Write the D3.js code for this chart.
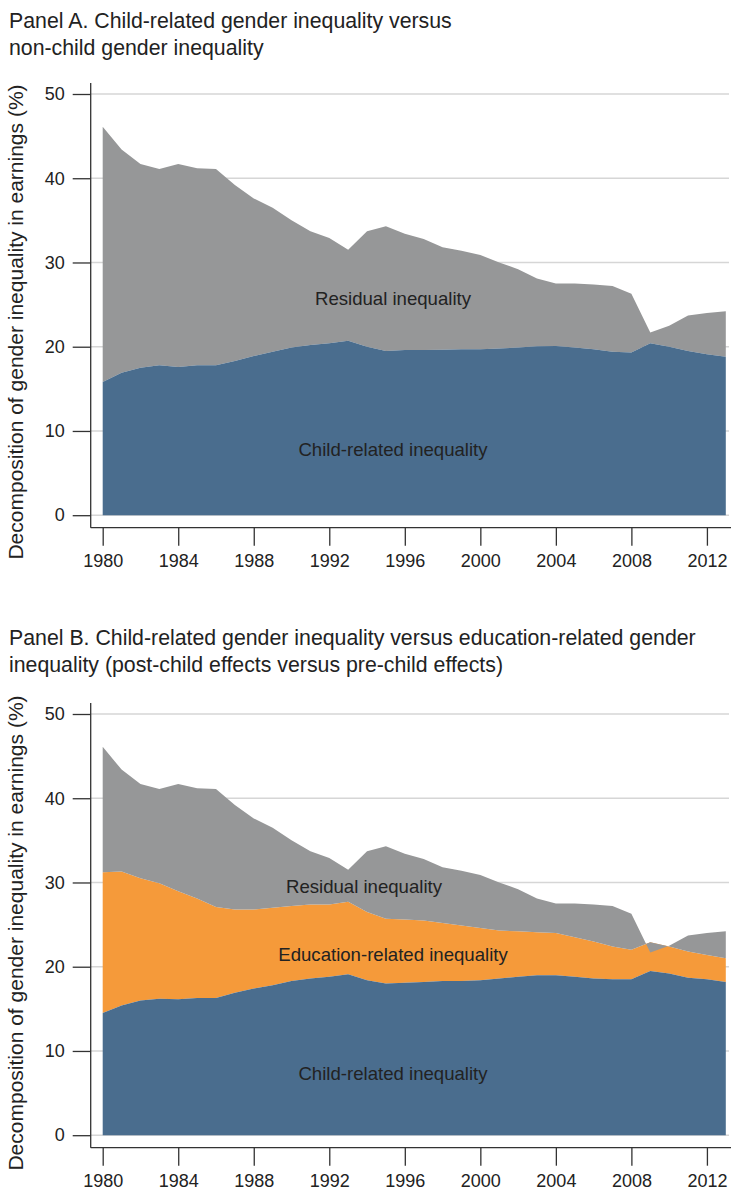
<!DOCTYPE html>
<html>
<head>
<meta charset="utf-8">
<script src="https://cdn.jsdelivr.net/npm/d3@7"></script>
<style>
  html, body { margin: 0; padding: 0; background: #fff; }
  svg { display: block; font-family: "Liberation Sans", Arial, Helvetica, sans-serif; }
</style>
</head>
<body>
<svg id="chart" width="731" height="1192"></svg>
<script>
// Decomposition of the gender gap in earnings, Denmark 1980-2013 (percent)
const years = [1980, 1981, 1982, 1983, 1984, 1985, 1986, 1987, 1988, 1989,
               1990, 1991, 1992, 1993, 1994, 1995, 1996, 1997, 1998, 1999,
               2000, 2001, 2002, 2003, 2004, 2005, 2006, 2007, 2008, 2009,
               2010, 2011, 2012, 2013];

// total gender inequality in earnings (top of the stack in both panels)
const totalGap = [46.1, 43.4, 41.7, 41.1, 41.7, 41.2, 41.1, 39.2, 37.6, 36.5,
                  35.0, 33.7, 32.9, 31.5, 33.7, 34.3, 33.4, 32.8, 31.8, 31.4,
                  30.9, 30.0, 29.2, 28.1, 27.5, 27.5, 27.4, 27.2, 26.3, 21.7,
                  22.5, 23.7, 24.0, 24.2];

// Panel A: child-related share
const childA = [15.8, 16.9, 17.5, 17.8, 17.6, 17.8, 17.8, 18.3, 18.9, 19.4,
                19.9, 20.2, 20.4, 20.7, 20.0, 19.5, 19.6, 19.6, 19.65, 19.7,
                19.7, 19.8, 19.9, 20.05, 20.1, 19.9, 19.7, 19.4, 19.3, 20.4,
                20.0, 19.5, 19.1, 18.8];

// Panel B: child-related (post-child) and education-related (pre-child) shares
const childB = [14.5, 15.4, 16.0, 16.2, 16.15, 16.3, 16.3, 16.9, 17.4, 17.8,
                18.3, 18.6, 18.8, 19.1, 18.4, 18.0, 18.1, 18.2, 18.3, 18.3,
                18.4, 18.6, 18.8, 19.0, 19.0, 18.8, 18.6, 18.5, 18.5, 19.5,
                19.2, 18.7, 18.5, 18.2];
const educationB = [16.7, 15.9, 14.5, 13.7, 12.8, 11.8, 10.8, 9.9, 9.4, 9.2,
                    8.9, 8.8, 8.6, 8.6, 8.1, 7.7, 7.5, 7.3, 6.9, 6.6,
                    6.2, 5.7, 5.4, 5.1, 5.0, 4.7, 4.4, 3.9, 3.5, 3.4,
                    3.2, 3.1, 2.9, 2.8];

const yTicks = [0, 10, 20, 30, 40, 50];
const xTicks = [1980, 1984, 1988, 1992, 1996, 2000, 2004, 2008, 2012];

const titleA = ["Panel A. Child-related gender inequality versus",
                "non-child gender inequality"];
const titleB = ["Panel B. Child-related gender inequality versus education-related gender",
                "inequality (post-child effects versus pre-child effects)"];
const yTitle = "Decomposition of gender inequality in earnings (%)";

const colors = { residual: "#969798", child: "#4a6d8e", education: "#f59a3a" };
const ink = "#222";
const axisInk = "#333";

const svg = d3.select("#chart");

const x = d3.scaleLinear().domain([1980, 2013]).range([102.7, 725.8]);

function drawPanel(p) {
  const g = svg.append("g").attr("transform", `translate(0,${p.offset})`);
  const y = d3.scaleLinear().domain([0, 50]).range([515.2, 94]);

  // panel title, two lines
  g.append("g").selectAll("text").data(p.title).join("text")
    .attr("x", 9).attr("y", (d, i) => p.titleY + i * 27)
    .attr("font-size", 21.3).attr("fill", ink).text(d => d);

  // horizontal grid
  g.append("g").selectAll("line").data(yTicks).join("line")
    .attr("x1", 91).attr("x2", 729)
    .attr("y1", d => y(d)).attr("y2", d => y(d))
    .attr("stroke", "#d6d6d6").attr("stroke-width", 1.4);

  // stacked bands, each filled between its lower and upper series
  p.layers.forEach(layer => {
    const area = d3.area()
      .x((d, i) => x(years[i]))
      .y0((d, i) => y(layer.lo[i]))
      .y1((d, i) => y(layer.hi[i]));
    g.append("path").datum(years).attr("d", area).attr("fill", layer.color);
  });

  // y axis
  const yAxis = d3.axisLeft(y).tickValues(yTicks).tickSize(18).tickPadding(8);
  const ya = g.append("g").attr("transform", "translate(90.7,0)").call(yAxis);
  ya.select(".domain").attr("d", "M0,83V527.7").attr("stroke", axisInk).attr("stroke-width", 1.3);
  ya.selectAll(".tick line").attr("stroke", axisInk).attr("stroke-width", 1.3);
  ya.selectAll(".tick text").attr("font-size", 18).attr("fill", ink)
    .attr("font-family", "Liberation Sans, Arial, sans-serif");

  // x axis
  const xAxis = d3.axisBottom(x).tickValues(xTicks).tickFormat(d3.format("d"))
    .tickSize(18).tickPadding(9);
  const xa = g.append("g").attr("transform", "translate(0,527.7)").call(xAxis);
  xa.select(".domain").attr("d", "M90.7,0H731").attr("stroke", axisInk).attr("stroke-width", 1.3);
  xa.selectAll(".tick line").attr("stroke", axisInk).attr("stroke-width", 1.3);
  xa.selectAll(".tick text").attr("font-size", 18).attr("fill", ink)
    .attr("font-family", "Liberation Sans, Arial, sans-serif");

  // y axis title
  g.append("text")
    .attr("transform", `translate(23,${p.yTitleY}) rotate(-90)`)
    .attr("text-anchor", "middle").attr("font-size", 21).attr("fill", ink)
    .text(yTitle);

  // in-area labels
  g.append("g").selectAll("text").data(p.labels).join("text")
    .attr("x", d => d.x).attr("y", d => d.y + 6.5)
    .attr("text-anchor", "middle").attr("font-size", 18.6).attr("fill", ink)
    .text(d => d.text);
}

const zeros = years.map(() => 0);
const eduTop = childB.map((c, i) => c + educationB[i]);

drawPanel({
  offset: 0, title: titleA, titleY: 28, yTitleY: 322,
  layers: [
    { lo: childA, hi: totalGap, color: colors.residual },
    { lo: zeros, hi: childA, color: colors.child }
  ],
  labels: [
    { text: "Residual inequality", x: 393, y: 298 },
    { text: "Child-related inequality", x: 393, y: 449 }
  ]
});

drawPanel({
  offset: 620, title: titleB, titleY: 25, yTitleY: 313,
  layers: [
    { lo: childB, hi: eduTop, color: colors.education },
    { lo: zeros, hi: childB, color: colors.child },
    { lo: eduTop, hi: totalGap, color: colors.residual }
  ],
  labels: [
    { text: "Residual inequality", x: 364, y: 266 },
    { text: "Education-related inequality", x: 393, y: 334 },
    { text: "Child-related inequality", x: 393, y: 453 }
  ]
});
</script>
</body>
</html>
